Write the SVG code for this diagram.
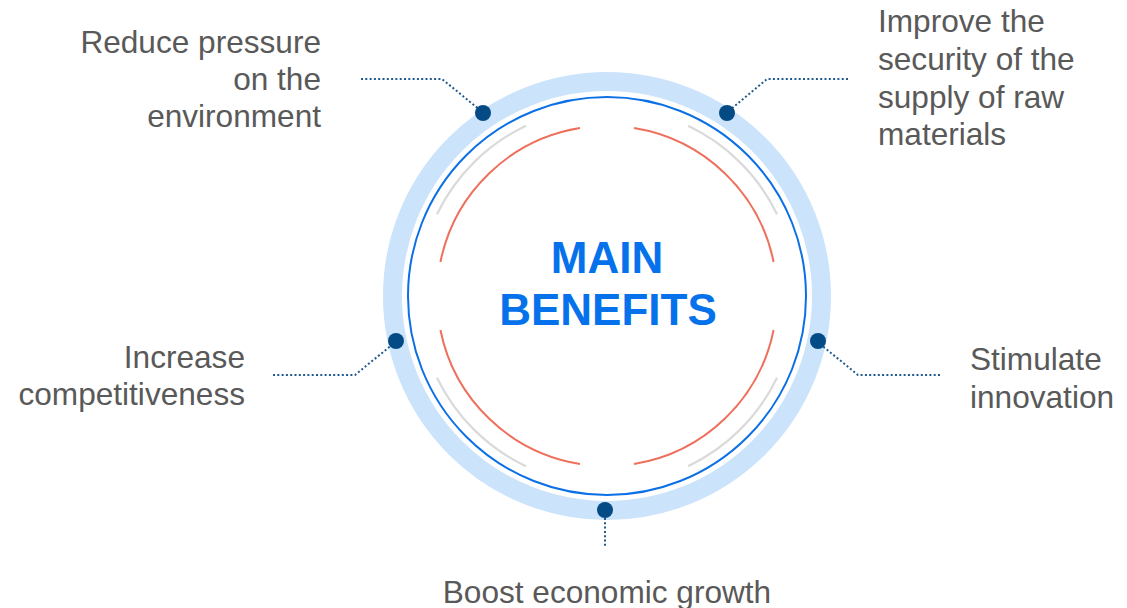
<svg xmlns="http://www.w3.org/2000/svg" width="1127" height="608" viewBox="0 0 1127 608">
<style>
.lbl{font-family:"Liberation Sans",Arial,sans-serif;font-size:31.6px;fill:#595959}
.ttl{font-family:"Liberation Sans",Arial,sans-serif;font-size:44px;font-weight:bold;fill:#0572ec}
.red{fill:none;stroke:#ee6f5c;stroke-width:2}
.gry{fill:none;stroke:#dadada;stroke-width:2.2}
.lead{fill:none;stroke:#1f5a8e;stroke-width:2;stroke-dasharray:2 2.3}
.dot{fill:#044a85}
</style>
<rect width="1127" height="608" fill="#ffffff"/>
<g id="ring">
<circle cx="607" cy="296" r="214.5" fill="none" stroke="#cce3fc" stroke-width="19"/>
<circle cx="607" cy="296" r="199" fill="none" stroke="#0b6fe6" stroke-width="2"/>
<path class="gry" d="M526,125.8 A188.5,188.5 0 0 0 437,214.2"/>
<path class="gry" d="M688,125.8 A188.5,188.5 0 0 1 777,214.2"/>
<path class="gry" d="M437,377.8 A188.5,188.5 0 0 0 526,466.2"/>
<path class="gry" d="M777,377.8 A188.5,188.5 0 0 1 688,466.2"/>
<path class="red" d="M580,128 A170,170 0 0 0 440.4,262"/>
<path class="red" d="M634,128 A170,170 0 0 1 773.6,262"/>
<path class="red" d="M440.4,330 A170,170 0 0 0 580,464"/>
<path class="red" d="M773.6,330 A170,170 0 0 1 634,464"/>
</g>
<g id="center">
<text class="ttl" x="607" y="273" text-anchor="middle">MAIN</text>
<text class="ttl" x="608" y="325" text-anchor="middle">BENEFITS</text>
</g>
<g id="connectors">
<polyline class="lead" points="361,79 442,79 480,110"/>
<polyline class="lead" points="848,79 767,79 730,110"/>
<polyline class="lead" points="273,375 355,375 393,344"/>
<polyline class="lead" points="940,375 858,375 820,344"/>
<polyline class="lead" points="605,518 605,548"/>
</g>
<g id="n-environment">
<circle class="dot" cx="483" cy="113" r="8"/>
<text class="lbl" text-anchor="end"><tspan x="321" y="53">Reduce pressure</tspan><tspan x="321" y="90">on the</tspan><tspan x="321" y="127">environment</tspan></text>
</g>
<g id="n-security">
<circle class="dot" cx="727" cy="113" r="8"/>
<text class="lbl"><tspan x="878" y="32">Improve the</tspan><tspan x="878" y="70">security of the</tspan><tspan x="878" y="108">supply of raw</tspan><tspan x="878" y="145">materials</tspan></text>
</g>
<g id="n-competitiveness">
<circle class="dot" cx="396" cy="341" r="8"/>
<text class="lbl" text-anchor="end"><tspan x="245" y="368">Increase</tspan><tspan x="245" y="405">competitiveness</tspan></text>
</g>
<g id="n-innovation">
<circle class="dot" cx="818" cy="341" r="8"/>
<text class="lbl"><tspan x="970" y="370">Stimulate</tspan><tspan x="970" y="408">innovation</tspan></text>
</g>
<g id="n-growth">
<circle class="dot" cx="605" cy="510" r="8"/>
<text class="lbl" x="607" y="603" text-anchor="middle">Boost economic growth</text>
</g>
</svg>
